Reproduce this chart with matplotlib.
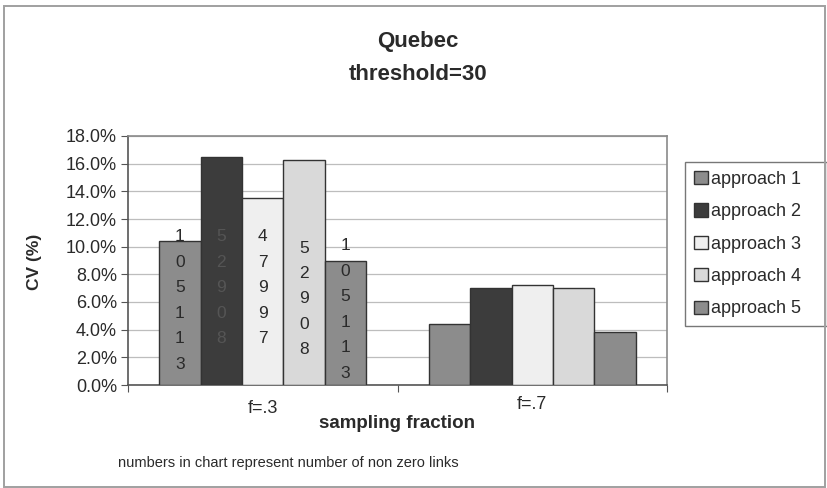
import matplotlib
matplotlib.use("Agg")
import matplotlib.pyplot as plt
from matplotlib.patches import Rectangle
from matplotlib.ticker import FuncFormatter, MultipleLocator
import numpy as np

plt.rcParams['font.family'] = ['Liberation Sans', 'DejaVu Sans']

groups = ["f=.3", "f=.7"]
series = ["approach 1", "approach 2", "approach 3", "approach 4", "approach 5"]
values = {
    "approach 1": [10.4, 4.4],
    "approach 2": [16.5, 7.0],
    "approach 3": [13.5, 7.2],
    "approach 4": [16.3, 7.0],
    "approach 5": [9.0, 3.8],
}
links_f3 = ["105113", "52908", "47997", "52908", "105113"]

colors = ["#8c8c8c", "#3c3c3c", "#efefef", "#d9d9d9", "#8c8c8c"]
# layout: centre (in % units) of the first digit of each stacked label, and step
digit_first = [10.7, 10.7, 10.7, 9.9, 10.05]
digit_step = 1.84

W, H = 827, 488
fig = plt.figure(figsize=(W/100, H/100), dpi=100)
fig.patch.set_facecolor("white")
fig.add_artist(Rectangle((4/W, 1-487/H), 821/W, 481/H, transform=fig.transFigure,
                         fill=False, edgecolor="#a0a0a0", linewidth=1.4))

ax = fig.add_axes([128/W, 1-385/H, 539/W, 249/H])
n = len(series)
w = 41.4/269.5
x = np.arange(len(groups))
txtc = "#2a2a2a"
for i, s in enumerate(series):
    pos = x + (i - (n-1)/2) * w
    ax.bar(pos, values[s], width=w, color=colors[i], edgecolor="#333333",
           linewidth=1.0, label=s, zorder=3)
    dc = "#555555" if colors[i] == "#3c3c3c" else txtc
    for k, ch in enumerate(links_f3[i]):
        ax.text(pos[0], digit_first[i] - k*digit_step, ch, ha="center", va="center",
                fontsize=12.5, color=dc, zorder=4)

ax.set_xlim(-0.5, 1.5)
ax.set_ylim(0, 18)
ax.yaxis.set_major_locator(MultipleLocator(2))
ax.yaxis.set_major_formatter(FuncFormatter(lambda v, p: f"{v:.1f}%"))
ax.grid(axis="y", color="#bdbdbd", linewidth=0.9, zorder=0)
ax.set_xticks([-0.5, 0.5, 1.5])
ax.set_xticklabels(["", "", ""])
ax.tick_params(axis="x", length=5, color="#555555")
ax.tick_params(axis="y", length=5, color="#555555", labelsize=13, labelcolor=txtc, pad=3)
for g, lx, dy in zip(groups, [0, 1], [-1.1, -0.8]):
    ax.text(lx, dy, g, ha="center", va="top", fontsize=13, color=txtc)
for sp in ["top", "right"]:
    ax.spines[sp].set_color("#8a8a8a")
    ax.spines[sp].set_linewidth(1.2)
for sp in ["left", "bottom"]:
    ax.spines[sp].set_color("#555555")
    ax.spines[sp].set_linewidth(1.2)

fig.text(34/W, 1-262/H, "CV (%)", rotation=90, ha="center", va="center",
         fontsize=12.5, fontweight="bold", color=txtc)
fig.text(397/W, 1-424/H, "sampling fraction", ha="center", va="center",
         fontsize=13.5, fontweight="bold", color=txtc)
fig.text(118/W, 1-463/H, "numbers in chart represent number of non zero links",
         ha="left", va="center", fontsize=10.5, color=txtc)
fig.text(418/W, 1-41/H, "Quebec", ha="center", va="center", fontsize=16,
         fontweight="bold", color=txtc)
fig.text(418/W, 1-74/H, "threshold=30", ha="center", va="center", fontsize=16,
         fontweight="bold", color=txtc)

leg = ax.legend(loc="upper left", bbox_to_anchor=(685/W, 1-328/H, 142/W, 166/H),
                bbox_transform=fig.transFigure, mode="expand", frameon=True, fancybox=False,
                fontsize=13, handlelength=0.75, handleheight=0.75, handletextpad=0.2,
                labelspacing=0.85, borderpad=0.5, borderaxespad=0)
leg.get_frame().set_edgecolor("#555555")
leg.get_frame().set_linewidth(1.0)
for t in leg.get_texts():
    t.set_color(txtc)

fig.savefig("out.png", dpi=100)
